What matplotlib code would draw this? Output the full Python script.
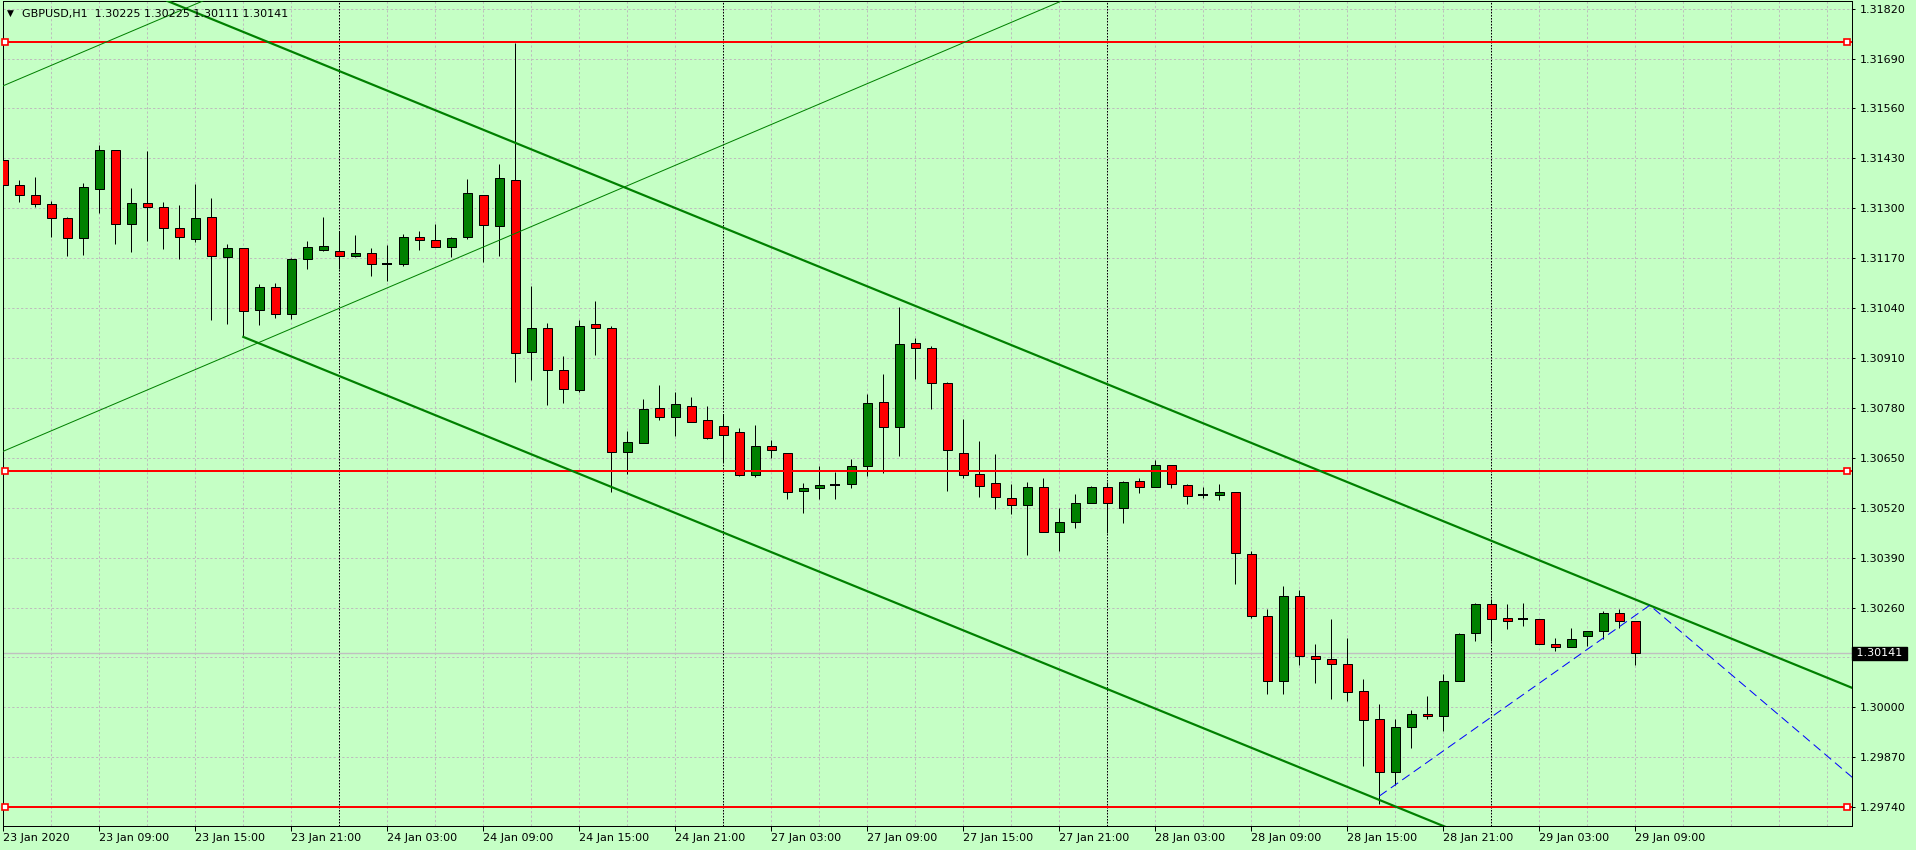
import numpy as np
import matplotlib
matplotlib.use("Agg")
import matplotlib.pyplot as plt

# GBPUSD H1, 23 Jan 03:00 .. 29 Jan 09:00
opens = [1.31427, 1.31362, 1.31334, 1.31310, 1.31274, 1.31222, 1.31351, 1.31453, 1.31260, 1.31313,
         1.31303, 1.31248, 1.31219, 1.31277, 1.31173, 1.31196, 1.31035, 1.31095, 1.31024, 1.31167,
         1.31191, 1.31188, 1.31175, 1.31183, 1.31154, 1.31154, 1.31225, 1.31217, 1.31198, 1.31224,
         1.31334, 1.31253, 1.31373, 1.30926, 1.30988, 1.30879, 1.30827, 1.30998, 1.30988, 1.30666,
         1.30689, 1.30780, 1.30757, 1.30785, 1.30749, 1.30733, 1.30718, 1.30606, 1.30681, 1.30663,
         1.30564, 1.30572, 1.30580, 1.30582, 1.30629, 1.30796, 1.30731, 1.30949, 1.30936, 1.30845,
         1.30663, 1.30608, 1.30585, 1.30546, 1.30528, 1.30575, 1.30458, 1.30484, 1.30533, 1.30575,
         1.30520, 1.30590, 1.30575, 1.30632, 1.30580, 1.30554, 1.30554, 1.30562, 1.30400, 1.30237,
         1.30068, 1.30291, 1.30135, 1.30127, 1.30112, 1.30042, 1.29969, 1.29831, 1.29948, 1.29982,
         1.29977, 1.30068, 1.30195, 1.30268, 1.30234, 1.30229, 1.30229, 1.30166, 1.30156, 1.30185,
         1.30200, 1.30247, 1.30225]
highs = [1.31430, 1.31374, 1.31381, 1.31319, 1.31277, 1.31366, 1.31465, 1.31453, 1.31353, 1.31449,
         1.31316, 1.31309, 1.31364, 1.31327, 1.31206, 1.31196, 1.31103, 1.31106, 1.31171, 1.31215,
         1.31277, 1.31240, 1.31230, 1.31196, 1.31204, 1.31233, 1.31241, 1.31259, 1.31226, 1.31376,
         1.31335, 1.31415, 1.31730, 1.31098, 1.31001, 1.30916, 1.31009, 1.31059, 1.30993, 1.30721,
         1.30804, 1.30840, 1.30822, 1.30809, 1.30785, 1.30764, 1.30728, 1.30736, 1.30697, 1.30663,
         1.30585, 1.30629, 1.30614, 1.30647, 1.30816, 1.30868, 1.31043, 1.30962, 1.30941, 1.30848,
         1.30752, 1.30695, 1.30661, 1.30581, 1.30588, 1.30598, 1.30520, 1.30555, 1.30577, 1.30588,
         1.30590, 1.30598, 1.30645, 1.30632, 1.30582, 1.30575, 1.30583, 1.30562, 1.30408, 1.30257,
         1.30315, 1.30307, 1.30164, 1.30229, 1.30182, 1.30073, 1.30008, 1.29969, 1.29992, 1.30029,
         1.30088, 1.30195, 1.30273, 1.30281, 1.30270, 1.30273, 1.30229, 1.30182, 1.30208, 1.30198,
         1.30250, 1.30257, 1.30225]
lows = [1.31358, 1.31317, 1.31303, 1.31225, 1.31176, 1.31179, 1.31289, 1.31206, 1.31187, 1.31216,
        1.31193, 1.31167, 1.31211, 1.31008, 1.30998, 1.30965, 1.30995, 1.31013, 1.31011, 1.31143,
        1.31189, 1.31141, 1.31173, 1.31124, 1.31111, 1.31150, 1.31192, 1.31198, 1.31173, 1.31219,
        1.31159, 1.31177, 1.30847, 1.30852, 1.30787, 1.30792, 1.30821, 1.30917, 1.30562, 1.30608,
        1.30689, 1.30748, 1.30706, 1.30744, 1.30699, 1.30639, 1.30602, 1.30600, 1.30650, 1.30543,
        1.30507, 1.30543, 1.30543, 1.30572, 1.30602, 1.30610, 1.30654, 1.30855, 1.30777, 1.30564,
        1.30597, 1.30548, 1.30517, 1.30504, 1.30397, 1.30458, 1.30407, 1.30468, 1.30533, 1.30454,
        1.30480, 1.30559, 1.30575, 1.30571, 1.30530, 1.30546, 1.30541, 1.30322, 1.30234, 1.30034,
        1.30036, 1.30111, 1.30064, 1.30023, 1.30017, 1.29848, 1.29748, 1.29799, 1.29895, 1.29969,
        1.29939, 1.30068, 1.30172, 1.30174, 1.30203, 1.30213, 1.30166, 1.30146, 1.30156, 1.30161,
        1.30177, 1.30208, 1.30111]
closes = [1.31362, 1.31334, 1.31310, 1.31274, 1.31222, 1.31355, 1.31453, 1.31258, 1.31313, 1.31303,
          1.31248, 1.31225, 1.31274, 1.31175, 1.31196, 1.31032, 1.31095, 1.31024, 1.31167, 1.31199,
          1.31201, 1.31175, 1.31183, 1.31154, 1.31154, 1.31225, 1.31217, 1.31198, 1.31222, 1.31339,
          1.31256, 1.31378, 1.30923, 1.30988, 1.30879, 1.30829, 1.30993, 1.30988, 1.30666, 1.30692,
          1.30777, 1.30757, 1.30790, 1.30744, 1.30702, 1.30710, 1.30606, 1.30681, 1.30671, 1.30562,
          1.30572, 1.30580, 1.30580, 1.30629, 1.30793, 1.30731, 1.30946, 1.30936, 1.30845, 1.30671,
          1.30606, 1.30577, 1.30549, 1.30528, 1.30575, 1.30458, 1.30484, 1.30533, 1.30575, 1.30533,
          1.30588, 1.30575, 1.30632, 1.30582, 1.30551, 1.30554, 1.30562, 1.30403, 1.30237, 1.30068,
          1.30291, 1.30135, 1.30127, 1.30114, 1.30041, 1.29968, 1.29831, 1.29948, 1.29982, 1.29977,
          1.30068, 1.30192, 1.30268, 1.30231, 1.30226, 1.30229, 1.30166, 1.30156, 1.30179, 1.30198,
          1.30247, 1.30226, 1.30141]

time_labels = ["23 Jan 2020", "23 Jan 09:00", "23 Jan 15:00", "23 Jan 21:00", "24 Jan 03:00",
               "24 Jan 09:00", "24 Jan 15:00", "24 Jan 21:00", "27 Jan 03:00", "27 Jan 09:00",
               "27 Jan 15:00", "27 Jan 21:00", "28 Jan 03:00", "28 Jan 09:00", "28 Jan 15:00",
               "28 Jan 21:00", "29 Jan 03:00", "29 Jan 09:00"]
price_ticks = [1.29740 + 0.0013 * k for k in range(17)]
day_starts = [21, 45, 69, 93]               # bar index of 00:00 each day
red_levels = [1.31733, 1.30616, 1.29740]   # horizontal lines
chan_upper = [(19.79, 1.31678), (95.94, 1.30384)]
chan_lower = [(15, 1.30965), (95, 1.29606)]
thin_a = [(3.77, 1.31686), (13.77, 1.31863)]
thin_b = [(10.42, 1.30852), (40.42, 1.31384)]
zigzag_x = [86.0, 102.9, 116.0]
zigzag_y = [1.29769, 1.30266, 1.29802]
title = "GBPUSD,H1  1.30225 1.30225 1.30111 1.30141"

bg = "#C5FFC5"
green = "#008000"
red = "#FF0000"
px = 0.72  # one pixel in points at 100 dpi

fig = plt.figure(figsize=(19.16, 8.5), dpi=100)
fig.patch.set_facecolor(bg)
ax = fig.add_axes([2.5 / 1916, 24 / 850, 1849.5 / 1916, 825 / 850])
ax.set_facecolor(bg)

o = np.array(opens); h = np.array(highs); l = np.array(lows); c = np.array(closes)
x = np.arange(len(o))
up = c > o
dn = c < o
flat = c == o

ax.vlines(x, l, h, color="black", lw=px, zorder=3)
ax.bar(x[up], (c - o)[up], bottom=o[up], width=0.56, color=green,
       edgecolor="black", linewidth=px, zorder=4)
ax.bar(x[dn], (o - c)[dn], bottom=c[dn], width=0.56, color=red,
       edgecolor="black", linewidth=px, zorder=4)
ax.hlines(o[flat], x[flat] - 0.31, x[flat] + 0.31, color="black", lw=2 * px, zorder=4)

xmin, xmax = -0.05, 115.54
ax.set_xlim(xmin, xmax)
ax.set_ylim(1.29691, 1.31840)

# grid / separators
ax.set_xticks(np.arange(0, len(o), 6))
ax.set_xticks(np.arange(0, 117, 3), minor=True)
ax.set_xticklabels(time_labels, ha="left")
ax.yaxis.tick_right()
ax.set_yticks(price_ticks)
ax.set_yticklabels([f"{p:.5f}" for p in price_ticks])
ax.grid(True, which="both", axis="x", color="#BDBDBD", lw=px, ls=(0, (2.2, 2.2)), zorder=0.5)
ax.grid(True, which="major", axis="y", color="#BDBDBD", lw=px, ls=(0, (2.2, 2.2)), zorder=0.5)
ax.set_axisbelow(True)
for d in day_starts:
    ax.axvline(d, color="black", lw=px, ls=(0, (1.5, 1.5)), zorder=2)

ax.tick_params(axis="y", which="major", direction="out", length=2.2, width=px, pad=3.6,
               labelsize=8, colors="black")
ax.tick_params(axis="x", which="major", direction="out", length=3.6, width=px, pad=1.2,
               labelsize=8, colors="black")
ax.tick_params(axis="x", which="minor", length=0)
for s in ax.spines.values():
    s.set_color("black")
    s.set_linewidth(px)

# current bid line
ax.axhline(closes[-1], color="#C0C0C0", lw=1.4 * px, zorder=1)

# horizontal levels
for lv in red_levels:
    ax.axhline(lv, color=red, lw=2 * px, zorder=6)
    ax.plot([0.09, 115.25], [lv, lv], "s", ms=3.8, mfc="white", mec=red, mew=1.2,
            clip_on=False, zorder=7)

# descending channel
ax.axline(chan_upper[0], chan_upper[1], color=green, lw=2.2 * px, zorder=6)
slope = (chan_lower[1][1] - chan_lower[0][1]) / (chan_lower[1][0] - chan_lower[0][0])
x_end = xmax + 5
ax.plot([chan_lower[0][0], x_end], [chan_lower[0][1], chan_lower[0][1] + slope * (x_end - chan_lower[0][0])],
        color=green, lw=2.2 * px, zorder=6)

# ascending thin lines
ax.axline(thin_a[0], thin_a[1], color=green, lw=px, zorder=6)
ax.axline(thin_b[0], thin_b[1], color=green, lw=px, zorder=6)

# blue zigzag
ax.plot(zigzag_x, zigzag_y, color="#0000FF", lw=px, ls=(0, (9, 5)), zorder=6)

# current price box
ax.annotate(" 1.30141 ", xy=(1, closes[-1]), xycoords=("axes fraction", "data"),
            xytext=(0.8, 0), textcoords="offset points", ha="left", va="center",
            color="white", fontsize=8,
            bbox=dict(boxstyle="square,pad=0.12", fc="black", ec="black"),
            annotation_clip=False, zorder=10)

# chart header
fig.text(7 / 1916, 1 - 13.5 / 850, "\u25BC", fontsize=6.5, va="center", ha="left")
fig.text(22 / 1916, 1 - 13.5 / 850, title, fontsize=8, va="center", ha="left")

fig.savefig("out.png", dpi=100, facecolor=bg)
